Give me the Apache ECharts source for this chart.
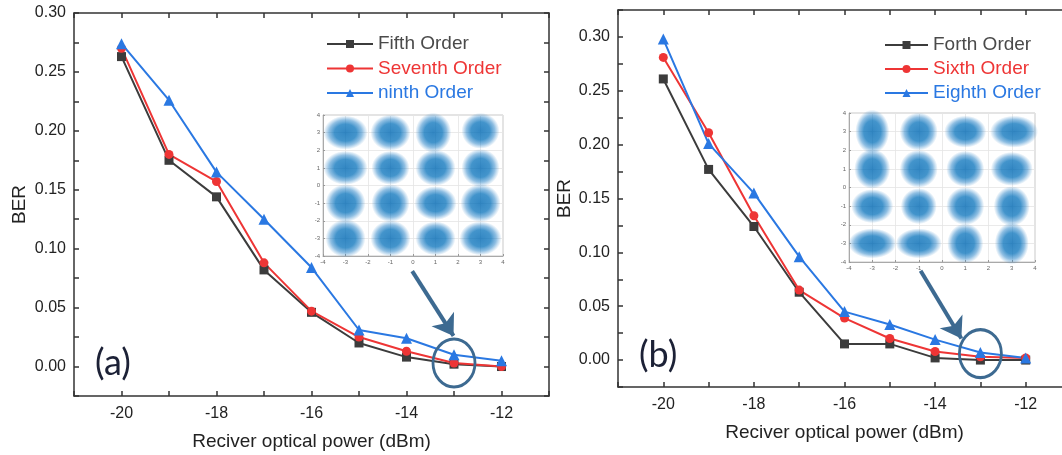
<!DOCTYPE html>
<html>
<head>
<meta charset="UTF-8">
<title>BER vs received optical power</title>
<script src="https://cdn.jsdelivr.net/npm/echarts@6/dist/echarts.min.js"></script>
<style>
  html, body { margin: 0; padding: 0; background: #fff; }
  #main { width: 1062px; height: 455px; }
</style>
</head>
<body>
<div id="main"></div>
<script>
// x values shared by both panels (dBm)
const power = [-20, -19, -18, -17, -16, -15, -14, -13, -12];

// panel (a)
const fifthOrder   = [0.263, 0.175, 0.144, 0.082, 0.046, 0.020, 0.008, 0.002, 0.000];
const seventhOrder = [0.270, 0.180, 0.157, 0.088, 0.047, 0.025, 0.013, 0.003, 0.000];
const ninthOrder   = [0.274, 0.226, 0.165, 0.125, 0.084, 0.031, 0.024, 0.010, 0.005];

// panel (b)
const forthOrder   = [0.261, 0.177, 0.124, 0.063, 0.015, 0.015, 0.002, 0.000, 0.000];
const sixthOrder   = [0.281, 0.211, 0.134, 0.065, 0.039, 0.020, 0.008, 0.003, 0.002];
const eighthOrder  = [0.298, 0.201, 0.155, 0.096, 0.045, 0.033, 0.019, 0.007, 0.002];

// 16-QAM constellation clusters seen in the insets: [I, Q, width, height] (size in px)
const clustersA = [[-3, 3, 44, 34], [-1, 3, 40, 36], [0.9, 3, 36, 40], [3, 3.1, 38, 36],
                   [-3, 1, 44, 34], [-1, 1, 38, 34], [1, 1, 40, 36], [3, 1, 38, 38],
                   [-3, -1, 40, 38], [-1, -1, 38, 38], [1, -1, 42, 34], [3, -1, 40, 38],
                   [-3, -3, 40, 38], [-1, -3, 40, 36], [1, -3, 40, 34], [3, -3, 42, 34]];
const clustersB = [[-3, 3, 34, 44], [-1, 3, 38, 38], [1, 3, 42, 32], [3.1, 3, 48, 32],
                   [-3, 1, 36, 40], [-1, 1, 38, 38], [1, 1, 38, 36], [3, 1, 42, 34],
                   [-3, -1, 42, 34], [-1, -1, 36, 36], [1, -1, 38, 38], [3, -1, 36, 40],
                   [-3, -3, 48, 30], [-1, -3, 46, 30], [1, -3, 36, 40], [3, -3, 34, 42]];

const FONT = 'Liberation Sans, Arial, sans-serif';
const C_BLACK = '#3c3c3c', C_RED = '#ee3535', C_BLUE = '#2a78e2', C_NOTE = '#3d6a91';

function pairs(ys) { return power.map((x, i) => [x, ys[i]]); }

function xAxisMain(grid, bottom) {
  return {
    type: 'value', gridIndex: grid, position: bottom ? 'bottom' : 'top',
    min: -21, max: -11, interval: 1,
    name: bottom ? 'Reciver optical power (dBm)' : '',
    nameLocation: 'middle', nameGap: 36,
    nameTextStyle: { fontFamily: FONT, fontSize: 19, color: '#222' },
    axisLine: { show: true, onZero: false, lineStyle: { color: '#333', width: 1.5 } },
    axisTick: { show: true, inside: true, length: 5, lineStyle: { color: '#333', width: 1.5 } },
    axisLabel: {
      show: bottom, fontFamily: FONT, fontSize: 16, color: '#222', margin: 10,
      showMinLabel: true, showMaxLabel: true,
      formatter: v => (Math.round(v) % 2 === 0 ? String(v) : '')
    },
    splitLine: { show: false }
  };
}

function yAxisMain(grid, left, max, gap) {
  return {
    type: 'value', gridIndex: grid, position: left ? 'left' : 'right',
    min: -0.025, max: max, interval: 0.025,
    name: left ? 'BER' : '',
    nameLocation: 'middle', nameGap: gap, nameRotate: 90,
    nameTextStyle: { fontFamily: FONT, fontSize: 19, color: '#222' },
    axisLine: { show: true, onZero: false, lineStyle: { color: '#333', width: 1.5 } },
    axisTick: { show: true, inside: true, length: 5, lineStyle: { color: '#333', width: 1.5 } },
    axisLabel: {
      show: left, fontFamily: FONT, fontSize: 16, color: '#222', margin: 8,
      showMinLabel: true, showMaxLabel: true,
      formatter: v => (v > -0.001 && Math.round(v * 1000) % 50 === 0 ? v.toFixed(2) : '')
    },
    splitLine: { show: false }
  };
}

function insetAxis(grid) {
  return {
    type: 'value', gridIndex: grid, min: -4, max: 4, interval: 1,
    axisLine: { show: true, onZero: false, lineStyle: { color: '#999', width: 0.8 } },
    axisTick: { show: true, inside: true, length: 2, lineStyle: { color: '#999' } },
    axisLabel: { fontFamily: FONT, fontSize: 6, color: '#666', margin: 3 },
    splitLine: { show: true, lineStyle: { color: '#e4e4e4', width: 0.8 } }
  };
}

function lineSeries(name, ys, color, symbol, xi, yi) {
  return {
    name: name, type: 'line', xAxisIndex: xi, yAxisIndex: yi,
    data: pairs(ys), symbol: symbol, symbolSize: symbol === 'triangle' ? 11 : 9,
    lineStyle: { color: color, width: 2 },
    itemStyle: { color: color }
  };
}

function note(arrowFrom, arrowTo, circleAt) {
  return {
    markLine: {
      silent: true, symbol: ['none', 'arrow'], symbolSize: 20,
      label: { show: false },
      lineStyle: { color: C_NOTE, width: 4, type: 'solid' },
      data: [[{ coord: arrowFrom }, { coord: arrowTo }]]
    },
    markPoint: {
      silent: true, symbol: 'circle', symbolSize: [42, 48],
      label: { show: false },
      itemStyle: { color: 'rgba(0,0,0,0)', borderColor: C_NOTE, borderWidth: 3 },
      data: [{ coord: circleAt }]
    }
  };
}

const blob = {
  type: 'radial', x: 0.5, y: 0.5, r: 0.5,
  colorStops: [
    { offset: 0, color: 'rgba(0,105,180,1)' },
    { offset: 0.5, color: 'rgba(0,110,185,0.92)' },
    { offset: 0.75, color: 'rgba(20,120,195,0.6)' },
    { offset: 0.9, color: 'rgba(40,130,200,0.25)' },
    { offset: 1, color: 'rgba(40,130,200,0)' }
  ]
};

function clusterSeries(data, xi, yi) {
  return {
    type: 'scatter', xAxisIndex: xi, yAxisIndex: yi, data: data,
    encode: { x: 0, y: 1 },
    symbolSize: v => [v[2], v[3]], silent: true, z: 6,
    itemStyle: { color: blob }
  };
}

const chart = echarts.init(document.getElementById('main'), null, { renderer: 'canvas' });

const blueA = Object.assign(lineSeries('ninth Order', ninthOrder, C_BLUE, 'triangle', 0, 0),
  note([-13.88, 0.081], [-13.01, 0.026], [-13, 0.003]));
const blueB = Object.assign(lineSeries('Eighth Order', eighthOrder, C_BLUE, 'triangle', 2, 2),
  note([-14.32, 0.083], [-13.42, 0.020], [-13, 0.006]));

chart.setOption({
  animation: false,
  backgroundColor: '#fff',
  title: [
    { text: '(a)', left: 90, top: 340, textStyle: { fontFamily: 'Lato, sans-serif', fontSize: 36, fontWeight: 'normal', color: '#1c2136' } },
    { text: '(b)', left: 634, top: 332, textStyle: { fontFamily: 'Lato, sans-serif', fontSize: 36, fontWeight: 'normal', color: '#1c2136' } }
  ],
  legend: [
    {
      orient: 'vertical', left: 321, top: 29, itemWidth: 46, itemHeight: 10, itemGap: 4.5,
      textStyle: { fontFamily: FONT, fontSize: 19, lineHeight: 20 },
      data: [
        { name: 'Fifth Order', textStyle: { color: '#4a4a4a' } },
        { name: 'Seventh Order', textStyle: { color: C_RED } },
        { name: 'ninth Order', textStyle: { color: C_BLUE } }
      ]
    },
    {
      orient: 'vertical', left: 879, top: 30, itemWidth: 43, itemHeight: 10, itemGap: 4,
      textStyle: { fontFamily: FONT, fontSize: 19, lineHeight: 20 },
      data: [
        { name: 'Forth Order', textStyle: { color: '#4a4a4a' } },
        { name: 'Sixth Order', textStyle: { color: C_RED } },
        { name: 'Eighth Order', textStyle: { color: C_BLUE } }
      ]
    }
  ],
  grid: [
    { left: 74, top: 13, right: 513, bottom: 59, outerBoundsMode: 'none' },
    { left: 618, top: 10, right: -9, bottom: 68, outerBoundsMode: 'none' },
    { left: 323, top: 115, width: 180, height: 141, outerBoundsMode: 'none', show: true, backgroundColor: '#fff', borderColor: '#c8c8c8', borderWidth: 1 },
    { left: 849, top: 113, width: 186, height: 149, outerBoundsMode: 'none', show: true, backgroundColor: '#fff', borderColor: '#c8c8c8', borderWidth: 1 }
  ],
  xAxis: [
    xAxisMain(0, true), xAxisMain(0, false),
    xAxisMain(1, true), xAxisMain(1, false),
    insetAxis(2), insetAxis(3)
  ],
  yAxis: [
    yAxisMain(0, true, 0.30, 45), yAxisMain(0, false, 0.30, 45),
    yAxisMain(1, true, 0.325, 44), yAxisMain(1, false, 0.325, 44),
    insetAxis(2), insetAxis(3)
  ],
  series: [
    lineSeries('Fifth Order', fifthOrder, C_BLACK, 'rect', 0, 0),
    lineSeries('Seventh Order', seventhOrder, C_RED, 'circle', 0, 0),
    blueA,
    lineSeries('Forth Order', forthOrder, C_BLACK, 'rect', 2, 2),
    lineSeries('Sixth Order', sixthOrder, C_RED, 'circle', 2, 2),
    blueB,
    clusterSeries(clustersA, 4, 4),
    clusterSeries(clustersB, 5, 5)
  ]
});
</script>
</body>
</html>
